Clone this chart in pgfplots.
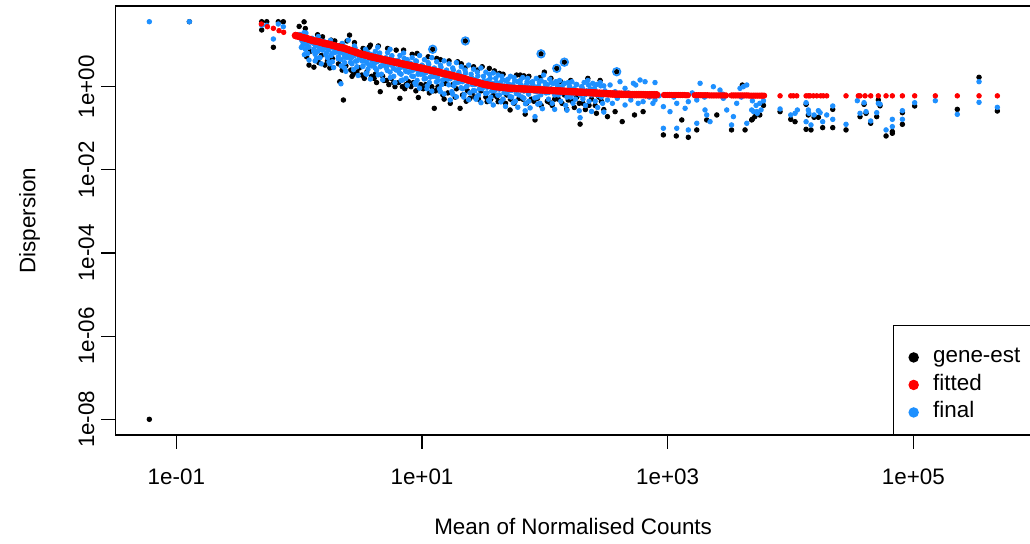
\documentclass[border=0pt]{standalone}
\usepackage{fontspec}
\setmainfont{Liberation Sans}
\usepackage{pgfplots}
\pgfplotsset{compat=1.18}
\definecolor{dblue}{HTML}{1E90FF}
\definecolor{rred}{HTML}{FF0000}

\pgfplotstableread{
x y
-1.220 -8.000
-0.894 1.563
-0.305 1.563
-0.264 1.563
-0.170 1.563
-0.129 1.563
-0.305 1.364
-0.210 0.948
0.00 1.45
0.04 1.56
0.06 0.72
0.08 0.52
0.05 1.40
0.09 0.85
0.12 0.47
0.14 0.65
0.16 0.58
0.18 0.75
0.19 1.20
0.15 1.25
0.21 0.52
0.23 0.62
0.25 0.45
0.27 0.68
0.29 1.10
0.26 1.12
0.33 0.12
0.36 -0.32
0.32 0.55
0.35 0.40
0.38 0.50
0.39 1.10
0.34 1.00
0.41 1.24
0.45 1.06
0.42 0.40
0.44 0.30
0.47 0.35
0.49 0.45
0.43 0.25
0.51 0.28
0.53 0.20
0.55 0.35
0.57 0.95
0.58 1.00
0.59 0.25
0.52 0.92
0.61 0.20
0.63 0.10
0.645 0.98
0.66 -0.12
0.68 0.25
0.69 0.15
0.62 0.30
0.71 0.15
0.73 0.05
0.75 0.20
0.77 0.10
0.79 0.88
0.72 0.92
0.78 0.00
0.82 -0.28
0.81 0.10
0.84 0.00
0.85 0.88
0.87 0.05
0.89 0.12
0.86 -0.05
0.91 0.00
0.93 0.10
0.95 -0.10
0.97 -0.26
0.99 0.05
0.96 0.80
0.92 0.78
1.01 -0.05
1.03 0.05
1.05 0.72
1.06 -0.15
1.08 0.00
1.09 -0.10
1.10 -0.52
1.087 0.90
1.11 -0.10
1.13 0.00
1.15 0.65
1.17 -0.20
1.19 0.08
1.12 0.68
1.18 -0.30
1.21 -0.15
1.23 -0.40
1.25 0.05
1.27 -0.25
1.29 0.60
1.22 0.62
1.28 -0.05
1.31 -0.52
1.33 -0.20
1.35 0.45
1.353 1.10
1.37 -0.10
1.39 -0.28
1.32 0.55
1.36 -0.35
1.41 -0.15
1.43 -0.25
1.46 -0.30
1.45 0.40
1.48 -0.10
1.49 0.48
1.42 0.48
1.53 -0.36
1.548 0.44
1.56 -0.30
1.58 -0.20
1.59 0.38
1.52 -0.25
1.62 -0.36
1.61 -0.25
1.64 -0.35
1.66 0.30
1.68 -0.40
1.69 -0.20
1.63 0.32
1.717 -0.56
1.72 -0.30
1.75 -0.40
1.77 0.28
1.79 -0.28
1.80 0.28
1.84 -0.66
1.82 -0.30
1.85 -0.40
1.87 0.25
1.89 -0.30
1.83 0.26
1.92 -0.80
1.91 -0.35
1.94 -0.28
1.969 0.79
1.996 0.35
1.97 -0.45
1.96 0.22
2.02 -0.35
2.04 -0.38
2.06 -0.45
2.08 -0.30
2.05 0.20
2.09 -0.20
2.097 0.44
2.11 -0.30
2.14 -0.40
2.159 0.59
2.178 -0.545
2.16 -0.20
2.19 -0.32
2.13 0.12
2.287 -0.90
2.22 -0.35
2.24 -0.50
2.26 -0.25
2.28 -0.40
2.21 0.15
2.31 -0.40
2.33 -0.55
2.36 -0.45
2.38 -0.30
2.35 0.20
2.39 -0.15
2.42 -0.64
2.41 -0.45
2.44 -0.25
2.46 -0.35
2.48 -0.55
2.45 0.15
2.51 -0.72
2.572 -0.60
2.585 0.36
2.63 -0.84
2.73 -0.68
2.80 -0.60
2.965 -1.16
3.07 -1.185
3.168 -1.217
3.237 -1.04
3.115 -0.80
3.318 -0.80
3.40 -0.68
3.52 -1.04
3.63 -1.04
3.684 -0.80
3.71 -0.72
3.608 0.04
3.69 -0.78
3.72 -0.64
3.75 -0.68
3.78 -0.45
3.915 -0.60
4.002 -0.785
4.037 -0.842
4.127 -0.424
4.127 -1.025
4.145 -0.68
4.167 -1.04
4.192 -0.736
4.227 -0.736
4.262 -0.985
4.344 -0.545
4.344 -0.985
4.452 -1.04
4.566 -0.72
4.599 -0.424
4.615 -0.64
4.653 -0.88
4.702 -0.72
4.715 -0.32
4.729 -0.46
4.778 -1.185
4.829 -1.08
4.829 -1.12
4.911 -0.625
4.911 -0.905
5.011 -0.464
5.358 -0.545
5.535 0.226
5.684 -0.585
}\geneest

\pgfplotstableread{
x y
-1.220 1.563
-0.894 1.563
-0.305 1.477
-0.264 1.477
-0.210 1.147
-0.170 1.508
-0.129 1.443
0.00 1.20
0.02 1.12
0.03 1.00
0.05 0.90
0.06 1.05
0.08 0.95
0.09 1.15
0.04 1.30
0.07 0.80
0.11 1.05
0.12 0.90
0.13 0.78
0.14 1.00
0.15 0.85
0.16 0.95
0.17 0.70
0.18 1.10
0.19 0.88
0.13 0.62
0.21 0.95
0.22 0.80
0.23 0.70
0.24 0.88
0.25 1.02
0.26 0.75
0.27 0.60
0.28 0.92
0.29 0.82
0.25 0.55
0.31 0.85
0.32 0.72
0.33 0.95
0.34 0.65
0.35 1.04
0.36 0.80
0.37 0.58
0.38 0.90
0.39 0.70
0.34 0.07
0.37 0.45
0.40 1.12
0.41 0.80
0.42 0.68
0.43 0.55
0.44 0.88
0.45 0.75
0.46 0.62
0.47 0.48
0.48 0.82
0.49 0.70
0.45 0.98
0.50 0.80
0.51 0.62
0.52 0.50
0.53 0.72
0.54 0.90
0.55 0.58
0.56 0.42
0.57 0.68
0.58 0.78
0.59 0.50
0.55 0.30
0.60 0.70
0.61 0.55
0.62 0.85
0.63 0.40
0.64 0.62
0.65 0.75
0.66 0.48
0.67 0.30
0.68 0.66
0.69 0.52
0.64 0.95
0.70 0.68
0.71 0.45
0.72 0.82
0.73 0.58
0.74 0.35
0.75 0.72
0.76 0.50
0.77 0.25
0.78 0.62
0.79 0.40
0.74 0.90
0.80 0.60
0.81 0.42
0.82 0.75
0.83 0.30
0.84 0.55
0.85 0.81
0.86 0.45
0.87 0.20
0.88 0.65
0.89 0.35
0.83 0.15
0.90 0.55
0.91 0.38
0.92 0.70
0.93 0.25
0.94 0.48
0.95 0.62
0.96 0.15
0.97 0.40
0.98 0.75
0.99 0.30
0.95 0.05
1.00 0.52
1.01 0.30
1.02 0.65
1.03 0.20
1.04 0.42
1.05 0.58
1.06 0.10
1.07 0.35
1.08 0.70
1.09 0.25
1.04 -0.05
1.10 0.45
1.11 0.25
1.12 0.60
1.13 0.15
1.14 0.38
1.15 0.52
1.16 0.05
1.17 0.30
1.18 0.62
1.19 0.20
1.15 -0.12
1.20 0.40
1.21 0.18
1.22 0.55
1.23 -0.32
1.24 0.30
1.25 0.45
1.26 0.02
1.27 0.25
1.28 0.58
1.29 0.10
1.25 -0.18
1.30 0.35
1.31 0.12
1.32 0.48
1.33 -0.05
1.34 0.25
1.35 0.40
1.36 0.00
1.37 0.20
1.38 0.52
1.39 -0.15
1.34 -0.25
1.40 0.30
1.41 0.05
1.42 0.42
1.43 -0.10
1.44 0.18
1.45 0.35
1.46 -0.20
1.47 0.12
1.48 0.45
1.49 -0.05
1.44 -0.30
1.50 0.25
1.51 0.00
1.52 0.35
1.53 -0.15
1.54 0.15
1.55 0.30
1.56 -0.25
1.57 0.08
1.58 0.33
1.59 -0.10
1.55 -0.35
1.60 0.20
1.61 -0.05
1.62 0.28
1.63 -0.20
1.64 0.10
1.65 0.25
1.66 -0.30
1.67 0.02
1.68 0.15
1.69 -0.15
1.70 0.18
1.71 -0.10
1.72 0.25
1.73 -0.25
1.74 0.05
1.75 0.22
1.76 -0.35
1.77 -0.02
1.78 0.12
1.79 -0.20
1.80 0.15
1.81 -0.08
1.82 0.22
1.83 -0.28
1.84 -0.58
1.85 0.05
1.86 0.20
1.87 -0.35
1.88 -0.02
1.89 0.10
1.90 0.12
1.91 -0.10
1.92 -0.72
1.93 0.20
1.94 -0.25
1.95 0.02
1.96 -0.40
1.97 0.15
1.98 -0.05
1.99 0.28
2.00 0.10
2.01 -0.15
2.02 0.05
2.03 -0.30
2.04 0.18
2.05 -0.05
2.06 -0.40
2.07 0.08
2.08 -0.20
2.09 0.12
2.10 0.05
2.11 -0.20
2.12 0.15
2.13 -0.35
2.14 0.00
2.15 -0.12
2.16 0.08
2.17 -0.45
2.18 -0.25
2.19 0.10
2.20 0.02
2.21 -0.25
2.22 0.12
2.23 -0.40
2.24 -0.05
2.25 -0.30
2.26 0.05
2.27 -0.15
2.287 -0.745
2.29 -0.20
2.30 0.00
2.31 -0.30
2.32 0.10
2.33 -0.45
2.34 -0.10
2.35 0.15
2.36 -0.35
2.37 -0.05
2.38 -0.20
2.39 0.08
2.40 -0.05
2.41 -0.35
2.42 0.05
2.43 -0.50
2.44 -0.15
2.45 0.10
2.46 -0.25
2.47 -0.40
2.48 0.02
2.49 -0.10
2.531 0.041
2.572 -0.12
2.612 0.12
2.653 -0.04
2.721 0.082
2.740 0.041
2.775 0.161
2.816 0.12
2.897 0.10
2.510 -0.32
2.55 -0.40
2.59 -0.28
2.653 -0.44
2.70 -0.32
2.76 -0.40
2.80 -0.36
2.88 -0.40
2.897 -0.32
2.965 -0.48
3.019 -0.60
3.074 -0.40
3.142 -0.52
3.168 -0.36
3.237 -0.32
3.264 0.082
3.304 -0.56
3.345 -0.84
3.372 0.0
3.426 -0.08
3.453 -0.28
3.481 -0.56
3.535 -0.72
3.562 -0.40
3.589 -0.04
3.616 0.0
3.644 0.041
3.684 -0.56
3.725 -0.60
2.965 -1.0
3.074 -1.0
3.168 -1.04
3.237 -0.88
3.318 -0.68
3.644 -0.88
3.52 -0.92
2.60 -0.20
2.68 -0.15
2.85 -0.25
2.93 -0.22
3.05 -0.25
3.20 -0.15
3.30 -0.25
3.45 -0.18
3.60 -0.25
3.69 -0.34
3.72 -0.45
3.75 -0.40
3.78 -0.34
3.70 -0.60
3.73 -0.64
3.76 -0.56
3.915 -0.536
4.002 -0.68
4.037 -0.64
4.056 -0.56
4.127 -0.385
4.127 -0.842
4.145 -0.56
4.150 -0.64
4.167 -0.92
4.192 -0.68
4.227 -0.577
4.241 -0.625
4.262 -0.842
4.295 -0.68
4.344 -0.464
4.344 -0.785
4.452 -0.905
4.544 -0.337
4.566 -0.64
4.599 -0.385
4.615 -0.60
4.653 -0.825
4.702 -0.625
4.715 -0.40
4.729 -0.42
4.778 -1.04
4.829 -0.785
4.829 -0.96
4.911 -0.577
4.911 -0.785
5.011 -0.385
5.179 -0.337
5.358 -0.665
5.535 0.12
5.535 -0.376
5.684 -0.496
0.005 1.255
0.0175 0.945
0.030 1.08
0.0425 0.77
0.055 1.29
0.0675 0.98
0.080 0.64
0.0925 1.08
0.105 1.165
0.1175 0.855
0.130 0.995
0.1425 0.685
0.155 1.205
0.1675 0.895
0.180 0.55
0.1925 0.99
0.205 1.08
0.2175 0.77
0.230 0.91
0.2425 0.595
0.255 1.115
0.2675 0.80
0.280 0.46
0.2925 0.90
0.305 0.985
0.3175 0.675
0.330 0.815
0.3425 0.50
0.355 1.02
0.3675 0.71
0.380 0.37
0.3925 0.81
0.405 0.895
0.4175 0.585
0.430 0.72
0.4425 0.41
0.455 0.93
0.4675 0.615
0.480 0.27
0.4925 0.71
0.505 0.795
0.5175 0.485
0.530 0.625
0.5425 0.315
0.555 0.835
0.5675 0.525
0.580 0.185
0.5925 0.625
0.605 0.765
0.6175 0.455
0.630 0.595
0.6425 0.285
0.655 0.81
0.6675 0.50
0.680 0.165
0.6925 0.605
0.705 0.697
0.7175 0.39
0.730 0.53
0.7425 0.22
0.755 0.745
0.7675 0.44
0.780 0.10
0.7925 0.545
0.805 0.635
0.8175 0.325
0.830 0.47
0.8425 0.16
0.855 0.68
0.8675 0.37
0.880 0.035
0.8925 0.475
0.905 0.565
0.9175 0.255
0.930 0.40
0.9425 0.09
0.955 0.61
0.9675 0.30
0.980 -0.035
0.9925 0.405
1.005 0.495
1.0175 0.185
1.030 0.33
1.0425 0.02
1.055 0.54
1.0675 0.23
1.080 -0.105
1.0925 0.335
1.105 0.425
1.1175 0.115
1.130 0.26
1.1425 -0.05
1.155 0.47
1.1675 0.16
1.180 -0.175
1.1925 0.265
1.205 0.355
1.2175 0.045
1.230 0.19
1.2425 -0.12
1.255 0.40
1.2675 0.09
1.280 -0.245
1.2925 0.195
1.305 0.285
1.3175 -0.025
1.330 0.12
1.3425 -0.19
1.355 0.33
1.3675 0.02
1.380 -0.315
1.3925 0.125
1.405 0.215
1.4175 -0.095
1.430 0.05
1.4425 -0.26
1.455 0.26
1.4675 -0.05
1.480 -0.385
1.4925 0.055
1.505 0.145
1.5175 -0.16
1.530 -0.015
1.5425 -0.325
1.555 0.20
1.5675 -0.105
1.580 -0.44
1.5925 0.003
1.605 0.10
1.6175 -0.205
1.630 -0.06
1.6425 -0.365
1.655 0.165
1.6675 -0.145
1.680 -0.475
1.6925 -0.03
1.705 0.065
1.7175 -0.24
1.730 -0.09
1.7425 -0.39
1.755 0.14
1.7675 -0.165
1.780 -0.495
1.7925 -0.05
1.805 0.05
1.8175 -0.25
1.830 -0.105
1.8425 -0.41
1.855 0.12
1.8675 -0.18
1.880 -0.51
1.8925 -0.065
1.905 0.035
1.9175 -0.27
1.930 -0.12
1.9425 -0.42
1.955 0.11
1.9675 -0.195
1.980 -0.53
1.9925 -0.08
2.005 0.015
2.030 -0.14
2.055 0.09
2.080 -0.545
2.105 0.0
2.130 -0.155
2.155 0.07
2.180 -0.565
2.205 -0.02
2.230 -0.175
2.255 0.055
2.280 -0.58
2.305 -0.035
2.330 -0.19
2.355 0.04
2.380 -0.595
2.405 -0.05
2.430 -0.205
2.455 0.02
2.480 -0.61
}\final

\pgfplotstableread{
x y
-0.03 1.23
-0.015 1.22
0.00 1.21
0.015 1.195
0.03 1.18
0.045 1.17
0.06 1.16
0.075 1.145
0.09 1.13
0.105 1.115
0.12 1.103
0.135 1.096
0.15 1.088
0.165 1.075
0.18 1.063
0.195 1.05
0.21 1.038
0.225 1.03
0.24 1.022
0.255 1.01
0.27 0.997
0.285 0.985
0.30 0.972
0.315 0.959
0.33 0.947
0.345 0.939
0.36 0.93
0.375 0.915
0.39 0.90
0.405 0.885
0.42 0.87
0.435 0.855
0.45 0.84
0.465 0.825
0.48 0.81
0.495 0.795
0.51 0.78
0.525 0.77
0.54 0.76
0.555 0.745
0.57 0.73
0.585 0.72
0.60 0.71
0.615 0.70
0.63 0.69
0.645 0.68
0.66 0.67
0.675 0.66
0.69 0.65
0.705 0.64
0.72 0.63
0.735 0.62
0.75 0.61
0.765 0.60
0.78 0.59
0.795 0.58
0.81 0.57
0.825 0.56
0.84 0.55
0.855 0.54
0.87 0.53
0.885 0.52
0.90 0.51
0.915 0.50
0.93 0.49
0.945 0.48
0.96 0.47
0.975 0.46
0.99 0.45
1.005 0.44
1.02 0.43
1.035 0.42
1.05 0.41
1.065 0.40
1.08 0.39
1.095 0.38
1.11 0.37
1.125 0.36
1.14 0.35
1.155 0.335
1.17 0.32
1.185 0.31
1.20 0.30
1.215 0.29
1.23 0.28
1.245 0.27
1.26 0.259
1.275 0.247
1.29 0.235
1.305 0.224
1.32 0.212
1.335 0.20
1.35 0.189
1.365 0.172
1.38 0.155
1.395 0.143
1.41 0.132
1.425 0.12
1.44 0.108
1.455 0.097
1.47 0.085
1.485 0.073
1.50 0.061
1.515 0.053
1.53 0.043
1.545 0.034
1.56 0.025
1.575 0.015
1.59 0.006
1.605 0.0
1.62 -0.005
1.635 -0.01
1.65 -0.015
1.665 -0.02
1.68 -0.025
1.695 -0.03
1.71 -0.035
1.725 -0.037
1.74 -0.04
1.755 -0.042
1.77 -0.045
1.785 -0.047
1.80 -0.05
1.815 -0.052
1.83 -0.055
1.845 -0.057
1.86 -0.06
1.875 -0.062
1.89 -0.065
1.905 -0.067
1.92 -0.07
1.935 -0.072
1.95 -0.075
1.965 -0.077
1.98 -0.08
1.995 -0.082
2.01 -0.085
2.025 -0.087
2.04 -0.09
2.055 -0.092
2.07 -0.095
2.085 -0.097
2.10 -0.10
2.115 -0.102
2.13 -0.105
2.145 -0.107
2.16 -0.11
2.175 -0.112
2.19 -0.115
2.205 -0.117
2.22 -0.12
2.235 -0.122
2.25 -0.125
2.265 -0.127
2.28 -0.13
2.295 -0.132
2.31 -0.135
2.325 -0.137
2.34 -0.14
2.355 -0.142
2.37 -0.145
2.385 -0.147
2.40 -0.15
2.415 -0.152
2.43 -0.155
2.445 -0.157
2.46 -0.16
2.475 -0.162
2.49 -0.165
2.505 -0.167
2.52 -0.17
2.535 -0.172
2.55 -0.175
2.565 -0.177
2.58 -0.18
2.595 -0.18
2.61 -0.18
2.625 -0.182
2.64 -0.185
2.655 -0.185
2.67 -0.185
2.685 -0.187
2.70 -0.19
2.715 -0.19
2.73 -0.19
2.745 -0.19
2.76 -0.19
2.775 -0.19
2.79 -0.19
2.805 -0.192
2.82 -0.195
2.835 -0.195
2.85 -0.195
2.865 -0.195
2.88 -0.195
2.895 -0.195
2.91 -0.195
}\fittedA

\pgfplotstableread{
x y
2.97 -0.20
2.985 -0.20
3.00 -0.20
3.015 -0.20
3.03 -0.20
3.045 -0.20
3.06 -0.20
3.075 -0.20
3.09 -0.20
3.105 -0.20
3.12 -0.20
3.135 -0.20
3.15 -0.205
3.165 -0.205
3.22 -0.205
3.235 -0.205
3.25 -0.205
3.265 -0.205
3.28 -0.205
3.295 -0.205
3.31 -0.205
3.325 -0.205
3.34 -0.21
3.355 -0.21
3.37 -0.21
3.385 -0.21
3.40 -0.21
3.415 -0.21
3.43 -0.21
3.445 -0.21
3.46 -0.21
3.475 -0.21
3.52 -0.21
3.535 -0.21
3.55 -0.21
3.565 -0.21
3.58 -0.21
3.595 -0.21
3.61 -0.21
3.625 -0.21
3.64 -0.21
3.655 -0.21
3.67 -0.215
3.685 -0.215
3.70 -0.215
3.715 -0.215
3.73 -0.215
3.745 -0.215
3.76 -0.215
3.77 -0.215
3.785 -0.215
}\fittedC

\pgfplotstableread{
x y
-0.308 1.508
-0.259 1.443
-0.210 1.404
-0.164 1.347
-0.126 1.308
3.915 -0.22
4.002 -0.22
4.023 -0.22
4.051 -0.22
4.127 -0.22
4.145 -0.22
4.159 -0.22
4.186 -0.22
4.214 -0.22
4.246 -0.22
4.267 -0.22
4.295 -0.22
4.452 -0.22
4.552 -0.22
4.566 -0.22
4.607 -0.22
4.653 -0.22
4.715 -0.22
4.778 -0.22
4.829 -0.22
4.911 -0.22
5.011 -0.22
5.179 -0.22
5.358 -0.22
5.535 -0.22
5.684 -0.22
}\fittedB

\pgfplotstableread{
x y
1.087 0.90
1.353 1.10
1.969 0.79
2.097 0.44
2.159 0.59
2.585 0.36
}\outliers

\begin{document}
\begin{tikzpicture}[font=\fontsize{11.2}{13.4}\selectfont]
\useasboundingbox (0,0) rectangle (515pt,272pt);
\clip (0,0) rectangle (515pt,272pt);
\begin{axis}[
  at={(57.65pt,54.5pt)}, anchor=south west,
  scale only axis, width=457.85pt, height=214.5pt,
  xmin=-1.497, xmax=5.958, ymin=-8.377, ymax=1.941,
  xtick={-1,1,3,5}, xticklabels={1e-01,1e+01,1e+03,1e+05},
  ytick={-8,-6,-4,-2,0}, yticklabels={1e-08,1e-06,1e-04,1e-02,1e+00},
  minor tick num=0,
  tick align=outside, tick pos=left, major tick length=7pt,
  axis line style={line width=0.6pt},
  every tick/.style={line width=0.6pt, black},
  xticklabel style={font=\fontsize{11.2}{13.4}\selectfont, anchor=base, yshift=-18pt},
  yticklabel style={font=\fontsize{11.2}{13.4}\selectfont, rotate=90, anchor=south},
  xlabel={Mean of Normalised Counts}, ylabel={Dispersion},
  xlabel style={font=\fontsize{11.2}{13.4}\selectfont, at={(axis description cs:0.5,-0.2331)}, anchor=base},
  ylabel style={font=\fontsize{11.2}{13.4}\selectfont, at={(axis description cs:-0.0874,0.5)}, anchor=base},
  legend cell align=left,
  legend image code/.code={\draw[#1, mark size=2.3pt] plot coordinates {(0pt,-2.5pt)};},
  legend style={at={(0.8496,0)}, anchor=south west, draw=black, line width=0.6pt,
    font=\fontsize{11.2}{13.4}\selectfont,
    inner xsep=7.6pt, inner ysep=6.6pt, row sep=0pt, column sep=7.45pt,
    nodes={inner sep=0pt, text height=12.03pt, text depth=1.72pt}},
]
\addplot[only marks, mark=*, black, mark size=1.15pt, forget plot] table {\geneest};
\addplot[only marks, mark=*, dblue, mark size=1.15pt, forget plot] table {\final};
\addplot[only marks, mark=*, rred, mark size=1.7pt, forget plot] table {\fittedA};
\addplot[only marks, mark=*, rred, mark size=1.35pt, forget plot] table {\fittedC};
\addplot[only marks, mark=*, rred, mark size=1.15pt, forget plot] table {\fittedB};
\addplot[only marks, mark=o, dblue, mark size=1.9pt, mark options={line width=0.85pt}, forget plot] table {\outliers};
\addlegendimage{only marks, mark=*, black}
\addlegendentry{gene-est\hspace{8pt}}
\addlegendimage{only marks, mark=*, rred}
\addlegendentry{fitted}
\addlegendimage{only marks, mark=*, dblue}
\addlegendentry{final}
\end{axis}
\end{tikzpicture}
\end{document}
